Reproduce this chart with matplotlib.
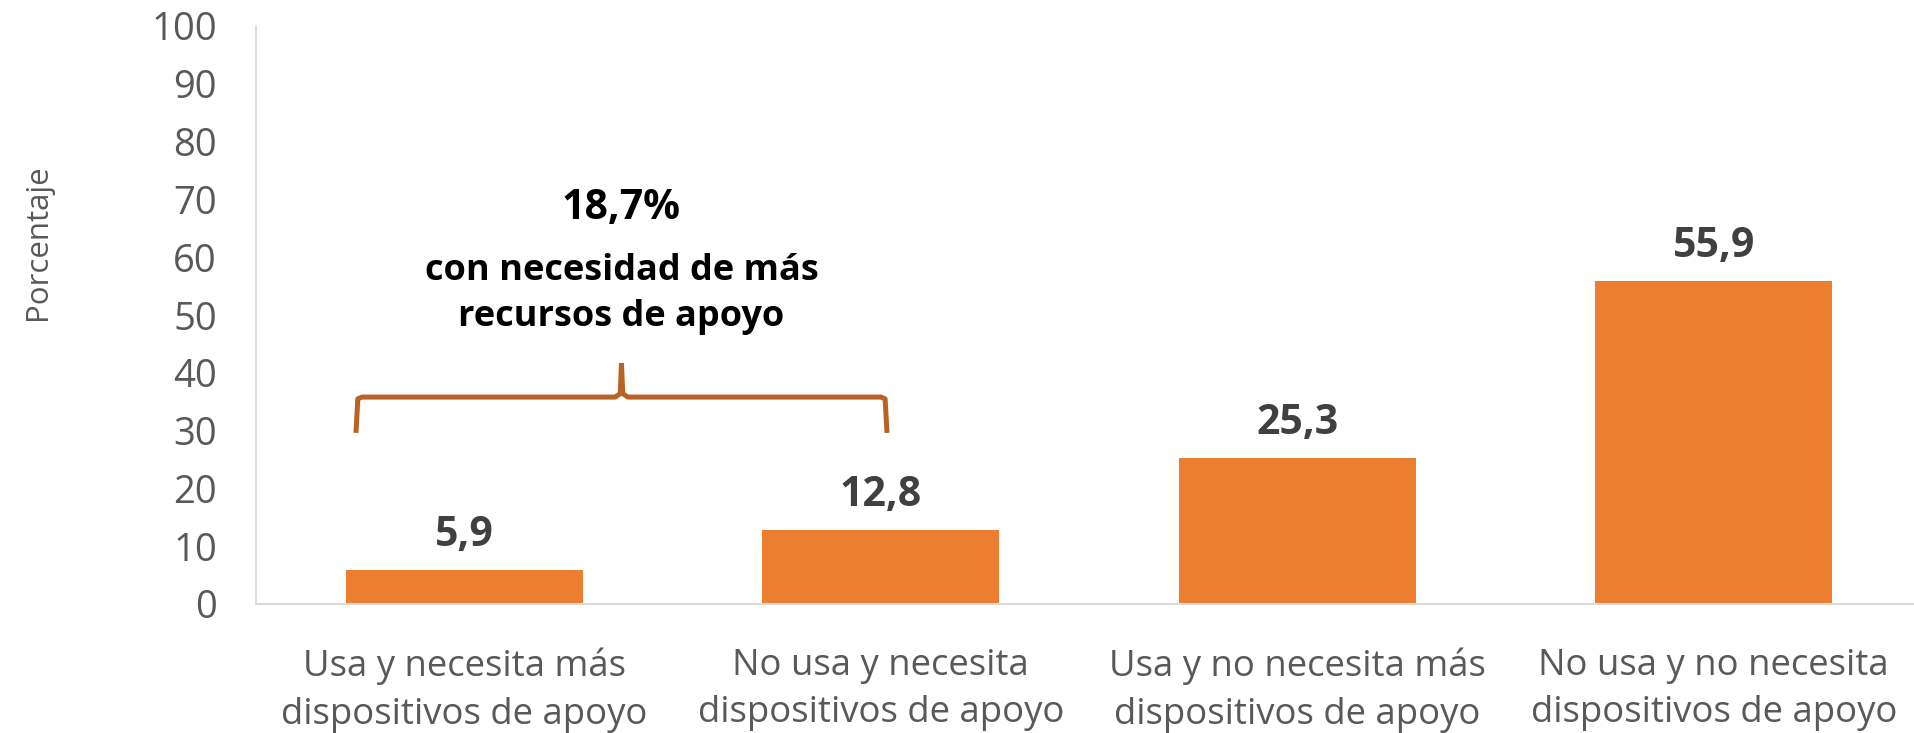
import matplotlib
matplotlib.use("Agg")
import matplotlib.pyplot as plt
import numpy as np

# data
categorias = ["Usa y necesita más\ndispositivos de apoyo",
              "No usa y necesita\ndispositivos de apoyo",
              "Usa y no necesita más\ndispositivos de apoyo",
              "No usa y no necesita\ndispositivos de apoyo"]
valores = [5.9, 12.8, 25.3, 55.9]
yticks = [0, 10, 20, 30, 40, 50, 60, 70, 80, 90, 100]

naranja = "#ED7D31"
llave = "#BA6125"
gris = "#595959"

plt.rcParams['font.family'] = ['Open Sans', 'DejaVu Sans']

fig = plt.figure(figsize=(19.14, 7.33), dpi=100)
ax = fig.add_axes([256 / 1914, 129 / 733, 1666 / 1914, 578 / 733])

x = np.arange(len(valores))
ax.bar(x, valores, width=0.57, color=naranja)

# value labels
for xi, v in zip(x, valores):
    ax.annotate(f"{v:.1f}".replace(".", ","), (xi, v), xytext=(0, 10),
                textcoords="offset points", ha="center", va="bottom",
                fontsize=29.5, fontweight="bold", color="#404040")

ax.set_xlim(-0.5, 3.5)
ax.set_ylim(0, 100)
ax.set_yticks(yticks)
ax.set_yticklabels([str(t) for t in yticks], fontsize=27.5, color=gris)
ax.set_xticks(x)
ax.set_xticklabels(categorias, fontsize=26.3, color=gris, linespacing=1.42)
ax.tick_params(axis="both", length=0)
ax.tick_params(axis="x", pad=31.5)
ax.tick_params(axis="y", pad=28)

for s in ["top", "right"]:
    ax.spines[s].set_visible(False)
ax.spines["left"].set_color("#D9D9D9")
ax.spines["bottom"].set_color("#D9D9D9")
ax.spines["left"].set_linewidth(1.2)
ax.spines["bottom"].set_linewidth(1.5)

ax.set_ylabel("Porcentaje", fontsize=22.5, color=gris)
ax.yaxis.set_label_coords(-0.122, 0.626)

# brace over the first two bars
izq = x[0] - 0.26
der = x[1] + 0.015
mid = (izq + der) / 2
y_bajo, y_barra, y_pico = 29.6, 35.8, 41.7
r = 0.015
bx = [izq, izq + r * 0.3, izq + r, mid - r, mid - r * 0.2, mid, mid, mid + r * 0.2, mid + r,
      der - r, der - r * 0.3, der]
by = [y_bajo, y_barra - 0.3, y_barra, y_barra, y_barra + 0.6, y_pico,
      y_pico, y_barra + 0.6, y_barra, y_barra, y_barra - 0.3, y_bajo]
ax.plot(bx[:6], by[:6], color=llave, lw=3.6, solid_joinstyle="round", solid_capstyle="butt")
ax.plot(bx[6:], by[6:], color=llave, lw=3.6, solid_joinstyle="round", solid_capstyle="butt")

total = valores[0] + valores[1]
ax.text(mid, 68.5, f"{total:.1f}%".replace(".", ","), ha="center", va="center",
        fontsize=29.5, fontweight="bold", color="black")
ax.text(mid, 53.6, "con necesidad de más\nrecursos de apoyo", ha="center", va="center",
        fontsize=26, fontweight="bold", color="black", linespacing=1.37)

fig.savefig("out.png", dpi=100)
